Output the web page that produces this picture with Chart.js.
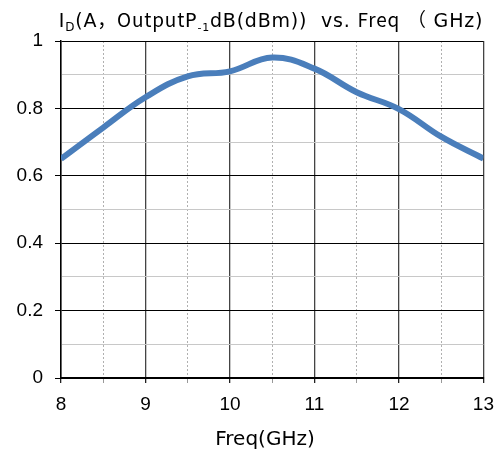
<!DOCTYPE html>
<html>
<head>
<meta charset="utf-8">
<script src="https://cdn.jsdelivr.net/npm/chart.js@4/dist/chart.umd.min.js"></script>
<style>
  body { margin: 0; background: #fff; }
</style>
</head>
<body>
<canvas id="myChart" width="504" height="452"></canvas>
<script>
// Data
const freqs = [8, 8.5, 9, 9.5, 10, 10.5, 11, 11.5, 12, 12.5, 13];
const idValues = [0.65, 0.743, 0.833, 0.895, 0.91, 0.951, 0.918, 0.848, 0.798, 0.716, 0.651];
const xTickLabels = ['8', '9', '10', '11', '12', '13'];
const yTickLabels = ['0', '0.2', '0.4', '0.6', '0.8', '1'];

const baseFont = '"DejaVu Sans", "Noto Sans CJK SC", sans-serif';
const cjkFont = '"Noto Sans CJK SC", sans-serif';
const tickFont = '"Liberation Sans", Arial, sans-serif';

// title pieces (with subscripts)
const titleParts = [
    { text: 'I', size: 19, family: baseFont },
    { text: 'D', size: 12, family: baseFont, dy: 4 },
    { text: '(A，', size: 19, family: baseFont },
    { text: 'Output', size: 19, family: cjkFont },
    { text: 'P', size: 19, family: baseFont },
    { text: '-1', size: 11, family: baseFont, dy: 4 },
    { text: 'dB(dBm))  vs. ', size: 19, family: baseFont },
    { text: 'Freq', size: 19, family: cjkFont },
    { text: ' （ GHz)', size: 19, family: baseFont }
];

const textPlugin = {
    id: 'textPlugin',
    afterDraw(chart) {
        const ctx = chart.ctx;
        ctx.save();
        ctx.fillStyle = '#000';
        ctx.textBaseline = 'alphabetic';
        ctx.textAlign = 'left';
        ctx.letterSpacing = '0.8px';
        let total = 0;
        titleParts.forEach(p => {
            ctx.font = p.size + 'px ' + p.family;
            p.w = ctx.measureText(p.text).width;
            total += p.w;
        });
        let x = 271 - total / 2;
        titleParts.forEach(p => {
            ctx.font = p.size + 'px ' + p.family;
            ctx.fillText(p.text, x, 27 + (p.dy || 0));
            x += p.w;
        });
        // x axis title
        ctx.letterSpacing = '0px';
        ctx.font = '20px ' + baseFont;
        ctx.textAlign = 'center';
        ctx.fillText('Freq(GHz)', 265, 445);
        ctx.restore();
    }
};

const ctx = document.getElementById('myChart').getContext('2d');
new Chart(ctx, {
    type: 'line',
    data: {
        datasets: [{
            data: freqs.map((f, i) => ({ x: f, y: idValues[i] })),
            borderColor: '#4a7ebb',
            borderWidth: 6,
            pointRadius: 0,
            tension: 0.4,
            fill: false
        }]
    },
    options: {
        responsive: false,
        animation: false,
        layout: { padding: { top: 41, right: 18, left: 0, bottom: 0 } },
        plugins: {
            legend: { display: false },
            title: { display: false },
            tooltip: { enabled: false }
        },
        scales: {
            x: {
                type: 'linear',
                min: 8,
                max: 13,
                afterFit: s => { s.height = 74; },
                ticks: {
                    stepSize: 0.5,
                    autoSkip: false,
                    maxRotation: 0,
                    padding: 10,
                    color: '#000',
                    font: { family: tickFont, size: 19 },
                    callback: v => Number.isInteger(v) ? xTickLabels[v - 8] : ''
                },
                grid: {
                    color: c => Number.isInteger(c.tick.value) ? '#444' : '#b0b0b0',
                    lineWidth: c => Number.isInteger(c.tick.value) ? 1.3 : 1,
                    tickLength: 5,
                    tickColor: c => Number.isInteger(c.tick.value) ? '#222' : '#999'
                },
                border: {
                    color: '#000',
                    width: 2,
                    dash: c => (c.tick && !Number.isInteger(c.tick.value)) ? [2, 2] : []
                }
            },
            y: {
                min: 0,
                max: 1,
                afterFit: s => { s.width = 61; },
                ticks: {
                    stepSize: 0.1,
                    autoSkip: false,
                    padding: 12,
                    color: '#000',
                    font: { family: tickFont, size: 19 },
                    callback: v => {
                        const k = Math.round(v * 10);
                        return k % 2 === 0 ? yTickLabels[k / 2] : '';
                    }
                },
                grid: {
                    color: c => Math.round(c.tick.value * 10) % 2 === 0 ? '#000' : '#c8c8c8',
                    lineWidth: 1,
                    tickLength: 6,
                    tickColor: c => Math.round(c.tick.value * 10) % 2 === 0 ? '#000' : 'rgba(0,0,0,0)'
                },
                border: { color: '#000', width: 1.5 }
            }
        }
    },
    plugins: [textPlugin]
});
</script>
</body>
</html>
